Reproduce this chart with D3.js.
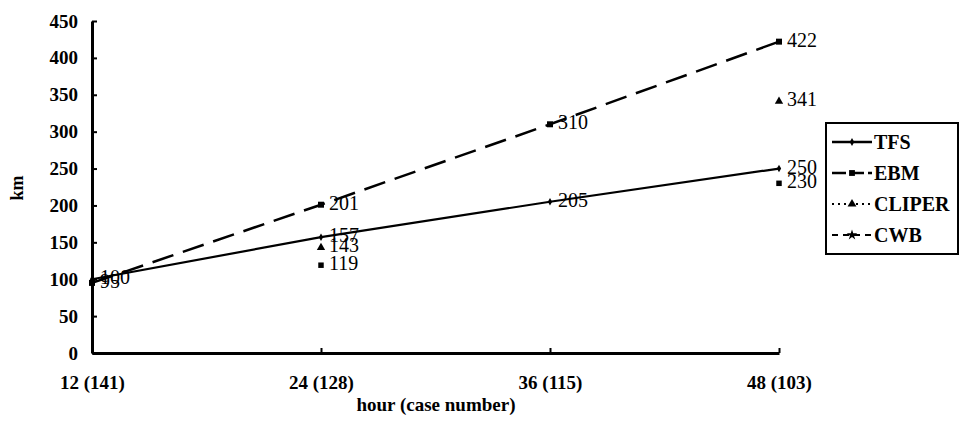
<!DOCTYPE html>
<html>
<head>
<meta charset="utf-8">
<script src="https://cdn.jsdelivr.net/npm/d3@7"></script>
<style>
  html, body { margin: 0; padding: 0; background: #fff; }
  svg { display: block; }
  text { font-family: "Liberation Serif", "Times New Roman", serif; fill: #000; }
</style>
</head>
<body>
<svg id="chart" width="964" height="441"></svg>
<script>
// ---- data ----
const categories = ["12 (141)", "24 (128)", "36 (115)", "48 (103)"];
const tfsValues    = [100, 157, 205, 250];
const ebmValues    = [95, 201, 310, 422];
const cliperValues = [null, 143, null, 341];
const cwbValues    = [null, 119, null, 230];
const yTickValues  = [0, 50, 100, 150, 200, 250, 300, 350, 400, 450];
const seriesNames  = ["TFS", "EBM", "CLIPER", "CWB"];

const series = [
  { name: seriesNames[0], values: tfsValues,    dash: null,    width: 2.2, symbol: d3.symbolDiamond,  size: 16 },
  { name: seriesNames[1], values: ebmValues,    dash: "22,10", width: 2.5, symbol: d3.symbolSquare,   size: 36 },
  { name: seriesNames[2], values: cliperValues, dash: "2,4",   width: 1.5, symbol: d3.symbolTriangle, size: 30 },
  { name: seriesNames[3], values: cwbValues,    dash: "6,5",   width: 1.5, symbol: d3.symbolSquare,   size: 30 }
];

const svg = d3.select("#chart");
const x = d3.scalePoint().domain(categories).range([92, 779]).padding(0);
const y = d3.scaleLinear().domain([0, 450]).range([353, 21]);

// ---- axes ----
const yAxis = svg.append("g").attr("transform", "translate(92,0)")
  .call(d3.axisLeft(y).tickValues(yTickValues).tickSizeInner(-5).tickSizeOuter(0).tickPadding(14).tickFormat(d3.format("d")));
yAxis.select(".domain").attr("stroke-width", 3);
yAxis.selectAll(".tick line").attr("stroke-width", 2);
yAxis.selectAll(".tick text").style("font-size", "19px").style("font-weight", "bold")
  .style("font-family", "'Liberation Serif', serif").attr("fill", "#000");

const xAxis = svg.append("g").attr("transform", "translate(0,353)")
  .call(d3.axisBottom(x).tickSizeInner(-5).tickSizeOuter(0).tickPadding(23));
xAxis.select(".domain").attr("stroke-width", 3);
xAxis.selectAll(".tick line").attr("stroke-width", 2);
xAxis.selectAll(".tick text").style("font-size", "19px").style("font-weight", "bold")
  .style("font-family", "'Liberation Serif', serif").attr("fill", "#000");

// axis titles
svg.append("text").attr("transform", "translate(23,188) rotate(-90)")
  .attr("text-anchor", "middle").style("font-size", "18px").style("font-weight", "bold").text("km");
svg.append("text").attr("x", 436).attr("y", 411)
  .attr("text-anchor", "middle").style("font-size", "19px").style("font-weight", "bold").text("hour (case number)");

// ---- lines ----
const lineGen = d3.line()
  .defined(d => d.v != null)
  .x(d => x(d.c)).y(d => y(d.v));

series.forEach(s => {
  const pts = categories.map((c, i) => ({ c, v: s.values[i] }));
  svg.append("path").datum(pts)
    .attr("d", lineGen)
    .attr("fill", "none").attr("stroke", "#000")
    .attr("stroke-width", s.width)
    .attr("stroke-dasharray", s.dash);
});

// ---- markers and labels ----
series.forEach(s => {
  const pts = categories.map((c, i) => ({ c, v: s.values[i] })).filter(d => d.v != null);
  svg.selectAll(null).data(pts).enter().append("path")
    .attr("d", d3.symbol().type(s.symbol).size(s.size))
    .attr("transform", d => `translate(${x(d.c)},${y(d.v)})`)
    .attr("fill", "#000");
  svg.selectAll(null).data(pts).enter().append("text")
    .attr("x", d => x(d.c) + 8)
    .attr("y", d => y(d.v) + 5)
    .style("font-size", "20px")
    .text(d => d.v);
});

// ---- legend ----
const lg = svg.append("g").attr("transform", "translate(826,123)");
lg.append("rect").attr("width", 132).attr("height", 131)
  .attr("fill", "#fff").attr("stroke", "#000").attr("stroke-width", 2);
const legendDash = [null, "14,4", "2,4", "6,5"];
series.forEach((s, i) => {
  const yy = 19 + i * 31;
  lg.append("line").attr("x1", 6).attr("x2", 46).attr("y1", yy).attr("y2", yy)
    .attr("stroke", "#000").attr("stroke-width", i < 2 ? 2.5 : 1.8)
    .attr("stroke-dasharray", legendDash[i]);
  lg.append("path").attr("d", d3.symbol().type(i === 3 ? d3.symbolStar : s.symbol).size(i === 0 ? 18 : 34))
    .attr("transform", `translate(26,${yy})`).attr("fill", "#000");
  lg.append("text").attr("x", 48).attr("y", yy + 7)
    .style("font-size", "20px").style("font-weight", "bold").text(s.name);
});
</script>
</body>
</html>
